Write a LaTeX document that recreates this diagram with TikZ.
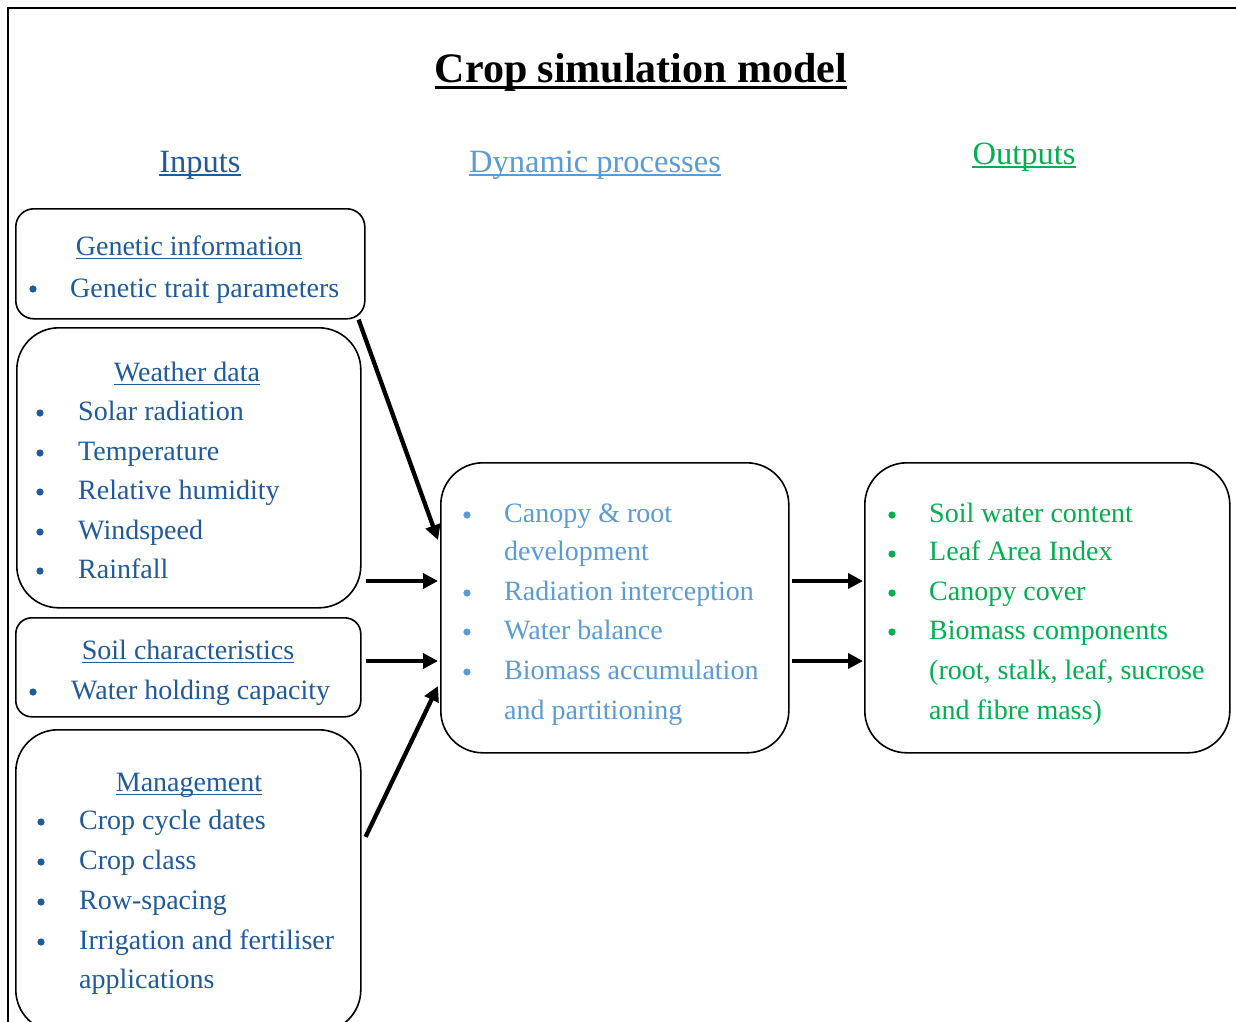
\documentclass[tikz,border=0pt]{standalone}
\usepackage{fontspec}
\setmainfont{Liberation Serif}
\usetikzlibrary{arrows.meta,calc}
\definecolor{inblue}{HTML}{1F5A9C}
\definecolor{dynblue}{HTML}{5B9BD5}
\definecolor{outgreen}{HTML}{00B050}
\newcommand\ulnode[3]{\draw[#2,line width=#3] ([yshift=-3.2pt]#1.base west) -- ([yshift=-3.2pt]#1.base east);}
\begin{document}
\begin{tikzpicture}[x=1pt,y=-1pt,
  box/.style={draw, line width=1.6pt, anchor=north west, inner sep=0},
  arr/.style={line width=4.3pt, -{Triangle[length=15pt,width=15pt]}},
  tx/.style={anchor=base west, inner sep=0, font=\fontsize{28}{34}\selectfont},
  hd/.style={anchor=base, inner sep=0, font=\fontsize{28}{34}\selectfont},
  colhd/.style={anchor=base, inner sep=0, font=\fontsize{32.5}{38}\selectfont},
  bul/.style={fill, radius=3.6pt}
]
\useasboundingbox (0,0) rectangle (1236,1021);
\clip (0,0) rectangle (1236,1021);
\fill[white] (0,0) rectangle (1236,1021);
\draw[line width=2pt] (8,1025) -- (8,8) -- (1240,8);

% title
\node[anchor=base, inner sep=0, font=\fontsize{42}{48}\selectfont\bfseries] (title) at (641,82) {Crop simulation model};
\draw[line width=3pt] ([yshift=-5.5pt]title.base west) -- ([yshift=-5.5pt]title.base east);

% column headers
\node[colhd, text=inblue] (hin) at (200,172) {Inputs};
\ulnode{hin}{inblue}{1.5pt}
\node[colhd, text=dynblue] (hdyn) at (595,172) {Dynamic processes};
\ulnode{hdyn}{dynblue}{1.5pt}
\node[colhd, text=outgreen] (hout) at (1024,164) {Outputs};
\ulnode{hout}{outgreen}{1.5pt}

% boxes
\node[box, rounded corners=18pt, minimum width=349pt, minimum height=110pt] (gen) at (15,208) {};
\node[box, rounded corners=42pt, minimum width=344pt, minimum height=280pt] (weather) at (16,327) {};
\node[box, rounded corners=16pt, minimum width=345pt, minimum height=99pt] (soil) at (15,617) {};
\node[box, rounded corners=42pt, minimum width=345pt, minimum height=302pt] (mgmt) at (15,729) {};
\node[box, rounded corners=42pt, minimum width=348pt, minimum height=290pt] (dyn) at (440,462) {};
\node[box, rounded corners=42pt, minimum width=365pt, minimum height=290pt] (out) at (864,462) {};

% genetic
\begin{scope}[inblue]
\node[hd, text=inblue] (genh) at (189,255) {Genetic information};
\ulnode{genh}{inblue}{1.3pt}
\fill[bul] (33,289) circle; \node[tx, text=inblue] (gen1) at (70,297) {Genetic trait parameters};

% weather
\node[hd, text=inblue] (weah) at (187,381) {Weather data};
\ulnode{weah}{inblue}{1.3pt}
\fill[bul] (40,413) circle; \node[tx, text=inblue] (wea1) at (78,420) {Solar radiation};
\fill[bul] (40,453) circle; \node[tx, text=inblue] (wea2) at (78,460) {Temperature};
\fill[bul] (40,492) circle; \node[tx, text=inblue] (wea3) at (78,499) {Relative humidity};
\fill[bul] (40,532) circle; \node[tx, text=inblue] (wea4) at (78,539) {Windspeed};
\fill[bul] (40,571) circle; \node[tx, text=inblue] (wea5) at (78,578) {Rainfall};

% soil
\node[hd, text=inblue] (soilh) at (188,659) {Soil characteristics};
\ulnode{soilh}{inblue}{1.3pt}
\fill[bul] (33,692) circle; \node[tx, text=inblue] (soil1) at (71,699) {Water holding capacity};

% management
\node[hd, text=inblue] (mgh) at (189,791) {Management};
\ulnode{mgh}{inblue}{1.3pt}
\fill[bul] (41,822) circle; \node[tx, text=inblue] (mg1) at (79,829) {Crop cycle dates};
\fill[bul] (41,862) circle; \node[tx, text=inblue] (mg2) at (79,869) {Crop class};
\fill[bul] (41,902) circle; \node[tx, text=inblue] (mg3) at (79,909) {Row-spacing};
\fill[bul] (41,942) circle; \node[tx, text=inblue] (mg4) at (79,949) {Irrigation and fertiliser};
\node[tx, text=inblue] (mg5) at (79,988) {applications};
\end{scope}

% dynamic
\begin{scope}[dynblue]
\fill[bul] (467,515) circle; \node[tx, text=dynblue] (dy1) at (504,522) {Canopy \& root};
\node[tx, text=dynblue] (dy1b) at (504,560) {development};
\fill[bul] (467,593) circle; \node[tx, text=dynblue] (dy2) at (504,600) {Radiation interception};
\fill[bul] (467,632) circle; \node[tx, text=dynblue] (dy3) at (504,639) {Water balance};
\fill[bul] (467,672) circle; \node[tx, text=dynblue] (dy4) at (504,679) {Biomass accumulation};
\node[tx, text=dynblue] (dy4b) at (504,719) {and partitioning};
\end{scope}

% outputs
\begin{scope}[outgreen]
\fill[bul] (892,515) circle; \node[tx, text=outgreen] (ou1) at (929,522) {Soil water content};
\fill[bul] (892,554) circle; \node[tx, text=outgreen] (ou2) at (929,560) {Leaf Area Index};
\fill[bul] (892,593) circle; \node[tx, text=outgreen] (ou3) at (929,600) {Canopy cover};
\fill[bul] (892,632) circle; \node[tx, text=outgreen] (ou4) at (929,639) {Biomass components};
\node[tx, text=outgreen] (ou4b) at (929,679) {(root, stalk, leaf, sucrose};
\node[tx, text=outgreen] (ou4c) at (929,719) {and fibre mass)};
\end{scope}

% arrow endpoints on the dynamic / output boxes
\coordinate (tG) at (438,540);
\coordinate (tW) at (438,581);
\coordinate (tS) at (438,661);
\coordinate (tM) at (438,686);
\coordinate (tO1) at (863,581);
\coordinate (tO2) at (863,661);

\draw[arr] ($(gen.south east)+(-7,0)$) -- (tG);
\draw[arr] ($(weather.east |- tW)+(4,0)$) -- (tW);
\draw[arr] ($(soil.east |- tS)+(4,0)$) -- (tS);
\draw[arr] ($(mgmt.east)+(4,-44)$) -- (tM);
\draw[arr] ($(dyn.east |- tO1)+(2,0)$) -- (tO1);
\draw[arr] ($(dyn.east |- tO2)+(2,0)$) -- (tO2);
\end{tikzpicture}
\end{document}
